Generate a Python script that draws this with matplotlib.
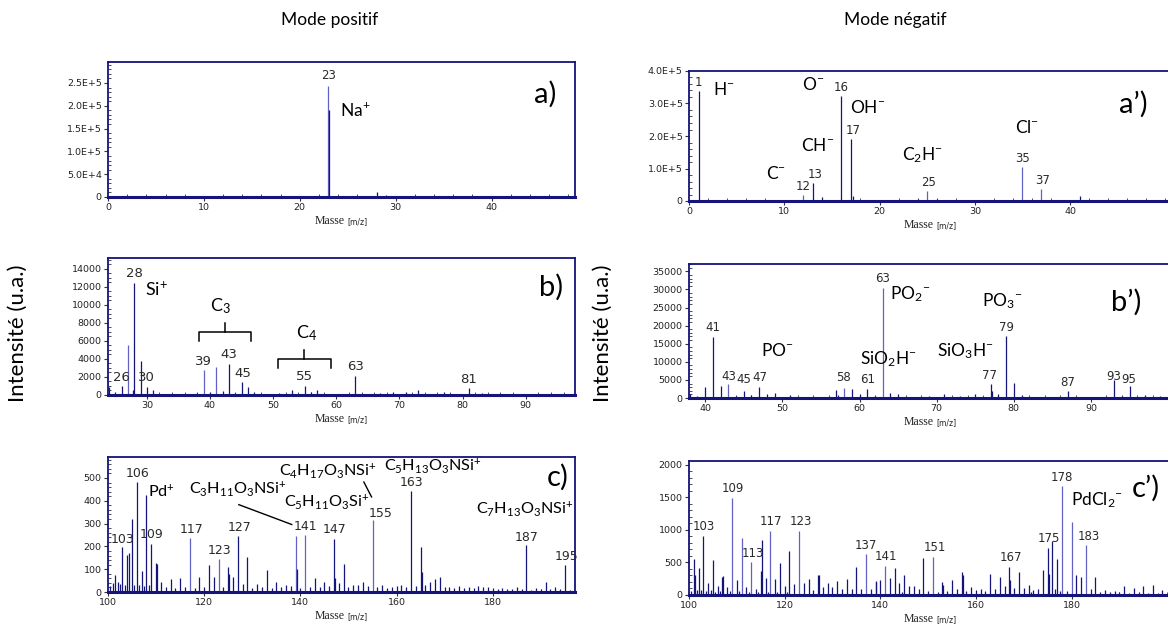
import numpy as np
import matplotlib
matplotlib.use('Agg')
import matplotlib.pyplot as plt
from matplotlib.ticker import FuncFormatter, AutoMinorLocator

plt.rcParams['mathtext.fontset'] = 'custom'
plt.rcParams['mathtext.rm'] = 'Lato'
plt.rcParams['mathtext.it'] = 'Lato:italic'
plt.rcParams['mathtext.bf'] = 'Lato:bold'
plt.rcParams['mathtext.default'] = 'regular'

NAVY = '#14147a'
LIGHT = '#6262c4'

# ---- mode positif ----
a_mass = [1, 22.95, 23.05, 24, 28, 29, 39, 41]
a_int = [1500, 2.44e5, 1.90e5, 2000, 1.2e4, 4000, 1500, 1000]
a_light = [22.95]

b_mass = [24, 25, 26, 27, 27.8, 28, 29, 30, 31, 32, 33, 35, 37, 38, 39, 40, 41, 42, 43, 44, 45, 46,
          47, 49, 50, 51, 53, 55, 56, 57, 59, 61, 63, 65, 67, 69, 71, 73, 75, 77, 79, 81, 83, 85,
          87, 91, 95]
b_int = [900, 300, 1050, 5500, 600, 12400, 3800, 930, 500, 150, 100, 120, 100, 200, 2720, 300, 3060,
         400, 3400, 200, 1420, 930, 300, 150, 150, 200, 500, 1000, 300, 500, 150, 120, 2160, 150,
         200, 300, 300, 500, 150, 300, 150, 820, 200, 150, 100, 100, 100]
b_light = [27, 39, 41]

c_mass = [101, 101.5, 102, 103, 104, 104.3, 105, 106, 106.4, 107, 108, 109, 110, 110.2, 111, 113,
          115, 117, 119, 121, 122, 123, 125, 125.2, 126, 127, 128, 129, 131, 133, 135, 137, 139,
          139.2, 141, 143, 145, 147, 147.2, 149, 151, 153, 155, 157, 159, 161, 163, 165, 165.2,
          167, 168, 169, 171, 187, 191, 193, 195, 197]
c_int = [40, 73, 44, 197, 161, 169, 322, 482, 29, 90, 424, 211, 126, 123, 44, 59, 63, 237, 66,
         117, 66, 146, 110, 80, 66, 245, 37, 154, 37, 95, 44, 30, 245, 100, 248, 63, 44, 231, 60,
         124, 29, 44, 317, 29, 22, 32, 442, 197, 88, 44, 58, 66, 22, 205, 44, 22, 120, 44]
c_noise_mass = [100.5, 102.5, 103.5, 105.5, 107.5, 108.5, 112, 114, 116, 118, 120, 124, 130, 132,
                134, 136, 138, 140, 142, 144, 146, 148, 150, 152, 154, 156, 158, 160, 162, 164,
                166, 170, 172, 173, 174, 175, 176, 177, 178, 179, 180, 181, 182, 183, 184, 185,
                186, 188, 189, 190, 192, 194, 196, 198, 199]
c_noise_int = [25, 35, 30, 30, 25, 30, 20, 18, 22, 18, 20, 22, 18, 20, 18, 22, 25, 18, 22, 20,
               25, 40, 20, 30, 25, 20, 18, 25, 20, 28, 30, 20, 18, 25, 18, 20, 18, 25, 22, 20,
               18, 15, 18, 15, 12, 20, 12, 10, 18, 12, 12, 15, 10, 12, 10]
c_light = [117, 123, 139, 141, 155]

# ---- mode negatif ----
ap_mass = [1, 2, 12, 13, 14, 16, 17, 17.2, 19, 24, 25, 26, 32, 35, 37, 41, 42, 45, 48]
ap_int = [3.39e5, 3000, 2.0e4, 5.6e4, 1.1e4, 3.22e5, 1.91e5, 1.5e4, 3000, 5000, 3.05e4, 5000,
          4000, 1.05e5, 3.56e4, 1.5e4, 4000, 3000, 3000]
ap_light = [12, 25, 35, 37]

bp_mass = [38, 39, 40, 41, 42, 43, 44, 45, 46, 47, 48, 49, 50, 51, 53, 55, 56, 57, 57.2, 58, 59,
           60, 61, 62, 63, 64, 65, 66, 67, 69, 71, 73, 75, 77, 77.2, 78, 79, 80, 81, 83, 85, 87,
           89, 91, 93, 94, 95, 97, 99]
bp_int = [1000, 500, 2960, 16950, 3240, 3890, 500, 1850, 900, 2960, 1000, 1400, 300, 700, 300,
          300, 300, 2300, 800, 2780, 2500, 1100, 2600, 500, 30300, 1400, 1100, 300, 400, 600,
          1000, 600, 1100, 3900, 2000, 1000, 17130, 4170, 800, 400, 300, 2040, 300, 300, 4900,
          500, 3240, 900, 500]
bp_light = [43, 58, 63]

cp_mass = [101, 101.3, 102, 103, 104, 105, 106, 107, 107.2, 108, 109, 110, 111, 112, 113, 114,
           115, 115.2, 116, 117, 118, 119, 120, 121, 122, 123, 124, 125, 127, 127.2, 128, 129,
           130, 131, 132, 133, 134, 135, 136, 137, 138, 139, 139.2, 140, 141, 142, 143, 144,
           145, 146, 147, 148, 149, 151, 152, 153, 153.2, 154, 155, 156, 157, 157.2, 158, 159,
           160, 161, 162, 163, 164, 165, 166, 167, 167.2, 168, 169, 170, 171, 172, 173, 174,
           175, 175.2, 176, 177, 178, 179, 180, 181, 182, 183, 184, 185, 186, 187, 189, 191,
           193, 195, 197, 199]
cp_int = [550, 303, 420, 905, 188, 539, 146, 277, 290, 120, 1497, 225, 879, 120, 502, 94, 366,
          848, 261, 984, 251, 487, 146, 670, 173, 984, 188, 251, 304, 314, 120, 188, 120, 220,
          94, 251, 94, 434, 94, 633, 94, 199, 209, 235, 450, 267, 408, 188, 314, 146, 136, 94,
          576, 590, 42, 199, 160, 68, 225, 94, 356, 300, 68, 120, 84, 94, 68, 330, 94, 272, 146,
          424, 225, 110, 356, 110, 157, 84, 94, 387, 720, 330, 827, 550, 1675, 68, 1130, 314,
          272, 764, 94, 282, 42, 84, 68, 136, 110, 146, 157, 84]
cp_noise_mass = [100.5, 101.6, 102.5, 103.5, 104.5, 105.5, 106.5, 108.5, 110.5, 112.5, 114.5,
                 116.5, 118.5, 120.5, 126, 144.5, 150, 171.5, 176.5, 177.5, 188, 190, 192,
                 194, 196, 198]
cp_noise_int = [60, 80, 70, 60, 70, 50, 60, 60, 60, 50, 50, 45, 40, 40, 70, 40, 60, 50, 90, 60,
                40, 40, 30, 40, 35, 30]
cp_light = [109, 111, 113, 117, 123, 137, 141, 151, 178, 180, 183]


def sci(v, pos):
    if v == 0:
        return '0'
    return ('%.1E' % v).replace('E+0', 'E+')


def plain(v, pos):
    return '%d' % v


def draw_panel(rect, masses, values, light, xlim, ylim, xticks, yticks, fmt, xminor, yminor):
    ax = fig.add_axes(rect)
    m = np.array(masses, dtype=float)
    v = np.array(values, dtype=float)
    cols = [LIGHT if x in light else NAVY for x in m]
    ax.vlines(m, 0, v, colors=cols, linewidth=0.9, zorder=2)
    ax.set_xlim(*xlim)
    ax.set_ylim(*ylim)
    ax.set_xticks(xticks)
    ax.set_yticks(yticks)
    ax.yaxis.set_major_formatter(FuncFormatter(fmt))
    ax.xaxis.set_minor_locator(AutoMinorLocator(xminor))
    ax.yaxis.set_minor_locator(AutoMinorLocator(yminor))
    for s in ax.spines.values():
        s.set_color(NAVY)
        s.set_linewidth(1.3)
    ax.spines['bottom'].set_linewidth(2.2)
    ax.tick_params(which='major', direction='out', length=3, width=0.8, color='#333333',
                   labelsize=6.8, pad=1.5, labelcolor='#222222')
    ax.tick_params(which='minor', direction='in', length=2.5, width=0.6, color='#333333')
    ax.annotate('Masse', xy=(0.5, 0), xycoords='axes fraction', xytext=(2, -17),
                textcoords='offset points', ha='right', va='center', fontsize=8.5,
                family='Liberation Serif', color='#222222')
    ax.annotate('[m/z]', xy=(0.5, 0), xycoords='axes fraction', xytext=(4, -17.5),
                textcoords='offset points', ha='left', va='center', fontsize=5.5,
                family='DejaVu Sans', color='#222222')
    return ax


def peak_labels(ax, items, size=8.5):
    for x, y, t in items:
        ax.text(x, y, t, ha='center', va='center', fontsize=size, family='DejaVu Sans',
                color='#2a2a2a')


def ion_labels(ax, items, size=12.5):
    for x, y, t in items:
        ax.text(x, y, t, ha='center', va='center', fontsize=size, family='Lato', color='black')


def panel_tag(ax, x, y, t):
    ax.text(x, y, t, fontsize=21, family='Lato', ha='center', va='center')


W, H = 1168, 630
fig = plt.figure(figsize=(W / 100, H / 100), dpi=100)


def rect(l, r, t, b):
    return [l / W, 1 - b / H, (r - l) / W, (b - t) / H]


# a)
ax = draw_panel(rect(108, 575, 62, 197), a_mass, a_int, a_light, (0, 48.7), (0, 2.96e5),
                [0, 10, 20, 30, 40], [0, 5e4, 1e5, 1.5e5, 2e5, 2.5e5], sci, 5, 5)
peak_labels(ax, [(23, 2.67e5, '23')])
ion_labels(ax, [(25.8, 1.9e5, 'Na$^{+}$')])
panel_tag(ax, 45.6, 2.26e5, 'a)')

# b)
ax = draw_panel(rect(108, 575, 258, 395), b_mass, b_int, b_light, (23.85, 97.8), (0, 15190),
                [30, 40, 50, 60, 70, 80, 90], list(range(0, 14001, 2000)), plain, 5, 4)
peak_labels(ax, [(28, 13430, '28'), (25.9, 1980, '26'), (29.9, 1980, '30'), (39, 3730, '39'),
                 (43, 4480, '43'), (45.2, 2420, '45'), (55, 2050, '55'), (63, 3170, '63'),
                 (81, 1750, '81')], size=9.5)
ion_labels(ax, [(31.5, 11750, 'Si$^{+}$'), (41.7, 9880, 'C$_{3}$'), (55.3, 6900, 'C$_{4}$')],
           size=13)
for x0, x1, yb, yh, yt in [(38.2, 46.5, 5970, 6975, 8020), (50.7, 59.2, 2980, 3990, 4960)]:
    xm = (x0 + x1) / 2
    ax.plot([x0, x0, x1, x1], [yb, yh, yh, yb], color='black', lw=1.1)
    ax.plot([xm, xm], [yh, yt], color='black', lw=1.1)
panel_tag(ax, 94.0, 11940, 'b)')

# c)
ax = draw_panel(rect(108, 575, 457, 592), c_mass + c_noise_mass, c_int + c_noise_int, c_light,
                (100, 197.1), (0, 592), [100, 120, 140, 160, 180], [0, 100, 200, 300, 400, 500],
                plain, 4, 5)
peak_labels(ax, [(106.2, 519, '106'), (103.1, 231, '103'), (109, 251, '109'), (117.3, 275, '117'),
                 (123.1, 182, '123'), (127.4, 285, '127'), (141.1, 289, '141'), (147.2, 275, '147'),
                 (156.6, 345, '155'), (163.2, 480, '163'), (187, 241, '187'), (195.4, 154, '195')],
            size=9)
ion_labels(ax, [(111.1, 439, 'Pd$^{+}$'), (127, 453, 'C$_{3}$H$_{11}$O$_{3}$NSi$^{+}$'),
                (145.4, 395, 'C$_{5}$H$_{11}$O$_{3}$Si$^{+}$'),
                (145.6, 530, 'C$_{4}$H$_{17}$O$_{3}$NSi$^{+}$'),
                (167.6, 550, 'C$_{5}$H$_{13}$O$_{3}$NSi$^{+}$'),
                (186.6, 365, 'C$_{7}$H$_{13}$O$_{3}$NSi$^{+}$')], size=11.7)
ax.plot([127.2, 138.2], [383, 296], color='black', lw=1)
ax.plot([153.2, 154.8], [482, 417], color='black', lw=1)
panel_tag(ax, 193.4, 505, 'c)')

# a')
ax = draw_panel(rect(689, 1172, 71, 201), ap_mass, ap_int, ap_light, (0, 50.7), (0, 4.0e5),
                [0, 10, 20, 30, 40], [0, 1e5, 2e5, 3e5, 4e5], sci, 5, 5)
peak_labels(ax, [(1.0, 3.64e5, '1'), (16, 3.49e5, '16'), (17.2, 2.17e5, '17'), (12, 0.46e5, '12'),
                 (13.2, 0.82e5, '13'), (25.1, 0.56e5, '25'), (35, 1.3e5, '35'),
                 (37.1, 0.62e5, '37')])
ion_labels(ax, [(3.66, 3.44e5, 'H$^{-}$'), (13.0, 3.59e5, 'O$^{-}$'), (18.8, 2.88e5, 'OH$^{-}$'),
                (13.5, 1.71e5, 'CH$^{-}$'), (9.1, 0.84e5, 'C$^{-}$'),
                (24.5, 1.4e5, 'C$_{2}$H$^{-}$'), (35.5, 2.27e5, 'Cl$^{-}$')])
panel_tag(ax, 46.6, 2.98e5, 'a\u2019)')

# b')
ax = draw_panel(rect(689, 1172, 264, 398), bp_mass, bp_int, bp_light, (37.9, 100.5), (0, 37040),
                [40, 50, 60, 70, 80, 90], list(range(0, 35001, 5000)), plain, 5, 5)
peak_labels(ax, [(41, 19400, '41'), (43.1, 6000, '43'), (45.0, 5100, '45'), (47.1, 5560, '47'),
                 (57.9, 5560, '58'), (61.0, 5100, '61'), (63, 32900, '63'), (79, 19600, '79'),
                 (76.9, 6300, '77'), (87, 4170, '87'), (92.9, 6000, '93'), (94.9, 5200, '95')])
ion_labels(ax, [(66.5, 28700, 'PO$_{2}$$^{-}$'), (78.5, 26700, 'PO$_{3}$$^{-}$'),
                (49.3, 13000, 'PO$^{-}$'), (63.8, 10650, 'SiO$_{2}$H$^{-}$'),
                (73.7, 13000, 'SiO$_{3}$H$^{-}$')])
panel_tag(ax, 94.6, 26400, 'b\u2019)')

# c')
ax = draw_panel(rect(689, 1172, 461, 595), cp_mass + cp_noise_mass, cp_int + cp_noise_int,
                cp_light, (100, 201), (0, 2061), [100, 120, 140, 160, 180],
                [0, 500, 1000, 1500, 2000], plain, 4, 5)
peak_labels(ax, [(103.1, 1047, '103'), (109.1, 1638, '109'), (113.3, 633, '113'),
                 (117.2, 1130, '117'), (123.3, 1130, '123'), (137.0, 764, '137'),
                 (141.1, 592, '141'), (151.4, 733, '151'), (167.3, 576, '167'),
                 (175.2, 862, '175'), (178, 1811, '178'), (183.5, 905, '183')])
ion_labels(ax, [(185.2, 1455, 'PdCl$_{2}$$^{-}$')])
panel_tag(ax, 195.5, 1638, 'c\u2019)')

fig.text(330 / W, 1 - 20 / H, 'Mode positif', ha='center', va='center', fontsize=12.5,
         family='Lato')
fig.text(895 / W, 1 - 20 / H, 'Mode n\u00e9gatif', ha='center', va='center', fontsize=12.5,
         family='Lato')
fig.text(18 / W, 1 - 333 / H, 'Intensit\u00e9 (u.a.)', rotation=90, ha='center', va='center',
         fontsize=16, family='Lato')
fig.text(603 / W, 1 - 333 / H, 'Intensit\u00e9 (u.a.)', rotation=90, ha='center', va='center',
         fontsize=16, family='Lato')

fig.savefig('out.png', dpi=100)
